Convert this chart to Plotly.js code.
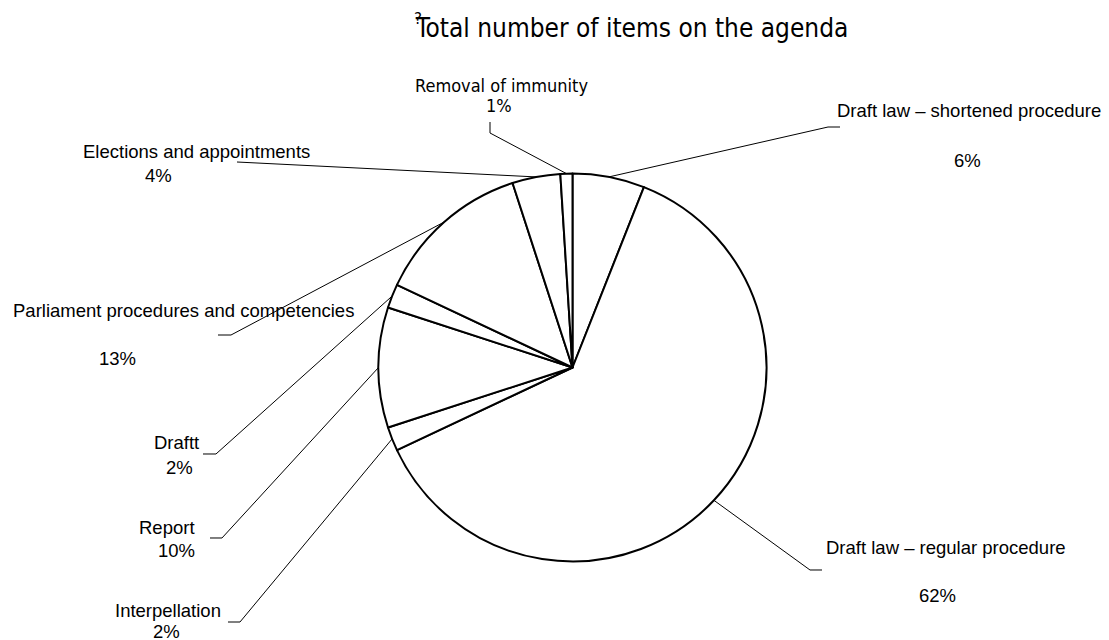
<!DOCTYPE html>
<html>
<head>
<meta charset="utf-8">
<script src="https://cdn.plot.ly/plotly-3.0.1.min.js"></script>
<style>html,body{margin:0;padding:0;background:#fff;}#chart{width:1109px;height:640px;}</style>
</head>
<body>
<div id="chart"></div>
<script>
// ---- data ----
const categories = [
  'Draft law – shortened procedure',
  'Draft law – regular procedure',
  'Interpellation',
  'Report',
  'Draftt',
  'Parliament procedures and competencies',
  'Elections and appointments',
  'Removal of immunity'
];
const shares = [6, 62, 2, 10, 2, 13, 4, 1];
const chartTitle = 'Total number of items on the agenda';

// ---- layout helpers (pixel geometry) ----
const W = 1109, H = 640;
const CX = 572.5, CY = 367.5, R = 194;
const px = x => x / W;
const py = y => 1 - y / H;

// label placement per category (pixels): name centre, percent centre, leader elbow points (label side)
const place = [
  {name:[969,110], pct:[967,160], elbow:[[840,127],[828,127]], font:'Liberation Sans, Arial', size:18.5},
  {name:[946,547], pct:[937,595], elbow:[[822,570],[810,570]], font:'Liberation Sans, Arial', size:18.5},
  {name:[168,610], pct:[166,631], elbow:[[228,622],[240,622]], font:'Liberation Sans, Arial', size:18.5},
  {name:[167,527], pct:[176,550], elbow:[[210,538],[222,538]], font:'Liberation Sans, Arial', size:18.5},
  {name:[176,442], pct:[179,467], elbow:[[203,454],[216,454]], font:'Liberation Sans, Arial', size:18.5},
  {name:[183,310], pct:[117,358], elbow:[[218,335],[231,335]], font:'Liberation Sans, Arial', size:18.5},
  {name:[196,151], pct:[158,175], elbow:[[237,162]], font:'Liberation Sans, Arial', size:18.5},
  {name:[501,85],  pct:[499,105], elbow:[[490,122],[490,133]], font:'DejaVu Sans Condensed, DejaVu Sans', size:18}
];

const total = shares.reduce((a,b)=>a+b,0);
let cum = 0;
const annotations = [];
const shapes = [];
shares.forEach((v,i)=>{
  const mid = (cum + v/2) / total * 2*Math.PI; // clockwise from 12 o'clock
  cum += v;
  const ex = CX + R*Math.sin(mid), ey = CY - R*Math.cos(mid);
  const p = place[i];
  const pts = p.elbow.concat([[ex,ey]]);
  const path = pts.map((q,k)=>(k?'L':'M')+px(q[0]).toFixed(5)+','+py(q[1]).toFixed(5)).join(' ');
  shapes.push({type:'path', xref:'paper', yref:'paper', path:path, line:{color:'#000', width:1}});
  annotations.push({xref:'paper', yref:'paper', x:px(p.name[0]), y:py(p.name[1]), xanchor:'center', yanchor:'middle',
    text:categories[i], showarrow:false, font:{family:p.font, size:p.size, color:'#000'}});
  annotations.push({xref:'paper', yref:'paper', x:px(p.pct[0]), y:py(p.pct[1]), xanchor:'center', yanchor:'middle',
    text:v+'%', showarrow:false, font:{family:p.font, size:p.size, color:'#000'}});
});
// stray glyph over the title's first letter
annotations.push({xref:'paper', yref:'paper', x:px(418), y:py(19), xanchor:'center', yanchor:'middle',
  text:'?', showarrow:false, font:{family:'DejaVu Sans', size:15, color:'#000'}});

const trace = {
  type:'pie',
  labels:categories,
  values:shares,
  sort:false,
  direction:'clockwise',
  rotation:0,
  textinfo:'none',
  hoverinfo:'none',
  showlegend:false,
  marker:{colors:categories.map(()=> '#ffffff'), line:{color:'#000', width:2}},
  domain:{x:[px(CX-R), px(CX+R)], y:[py(CY+R), py(CY-R)]}
};

const layout = {
  width:W, height:H,
  margin:{l:0,r:0,t:0,b:0},
  paper_bgcolor:'#fff', plot_bgcolor:'#fff',
  showlegend:false,
  title:{text:chartTitle, x:px(632), xanchor:'center', y:1-28/H, yanchor:'middle',
    font:{family:'DejaVu Sans Condensed, DejaVu Sans', size:26, color:'#000'}},
  annotations:annotations,
  shapes:shapes
};

Plotly.newPlot('chart',[trace],layout,{displayModeBar:false,staticPlot:true});
</script>
</body>
</html>
